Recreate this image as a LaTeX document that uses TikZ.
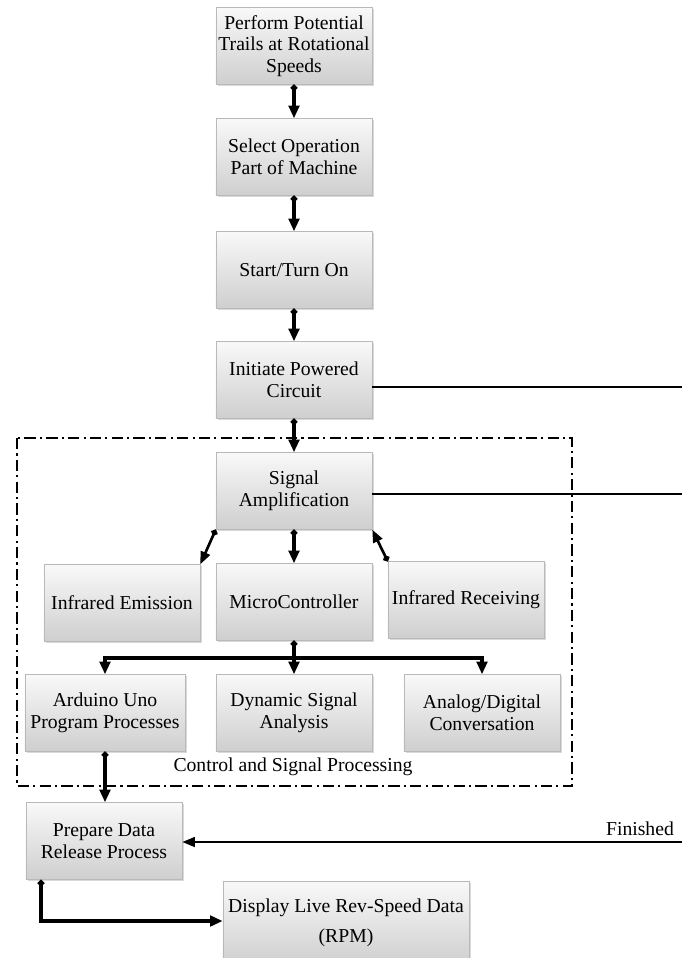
\documentclass[tikz,border=0pt]{standalone}
\usepackage{fontspec}
\setmainfont{Liberation Serif}
\usetikzlibrary{arrows.meta, shadows}

\tikzset{
  block/.style={rectangle, draw=gray!55, top color=gray!5, bottom color=gray!38,
    drop shadow={opacity=0.3, shadow xshift=1.2pt, shadow yshift=-1.2pt},
    minimum width=3.9cm, minimum height=1.92cm, inner sep=1pt,
    align=center, font=\fontsize{14}{15.5}\selectfont},
  flow/.style={line width=2.6pt, {Circle[length=4.5pt]}-{Triangle[length=9pt,width=7.5pt]}},
  branch/.style={line width=2.6pt, -{Triangle[length=9pt,width=7.5pt]}},
  thinflow/.style={line width=1.9pt, {Circle[length=4.5pt]}-{Triangle[length=9pt,width=7pt]}},
  plainline/.style={line width=1.5pt},
  ctrlbox/.style={line width=1.5pt, dash pattern=on 8pt off 3pt on 1.5pt off 3pt},
  lbl/.style={font=\fontsize{14}{15.5}\selectfont}
}

\begin{document}
\begin{tikzpicture}[x=0.025cm, y=-0.025cm]
  \useasboundingbox (0,0) rectangle (682,958);

  % control and signal processing frame
  \draw[ctrlbox] (17,438) rectangle (572,786);
  \node[lbl] (ctrllabel) at (293,767) {Control and Signal Processing};

  % main chain
  \node[block] (perform)   at (294,46)  {Perform Potential\\Trails at Rotational\\Speeds};
  \node[block] (select)    at (294,157) {Select Operation\\Part of Machine};
  \node[block] (start)     at (294,270) {Start/Turn On};
  \node[block] (initiate)  at (294,380) {Initiate Powered\\Circuit};
  \node[block] (signal)    at (294,491) {Signal\\Amplification};

  \node[block] (emission)  at (122,603) {Infrared Emission};
  \node[block] (micro)     at (294,602) {MicroController};
  \node[block] (receiving) at (466,600) {Infrared Receiving};

  \node[block, minimum width=4cm] (arduino) at (105,713) {Arduino Uno\\Program Processes};
  \node[block] (dynamic)   at (294,713) {Dynamic Signal\\Analysis};
  \node[block] (analog)    at (482,713) {Analog/Digital\\Conversation};

  \node[block] (prepare)   at (104,841) {Prepare Data\\Release Process};
  \node[block, minimum width=6.15cm, minimum height=2.1cm] (display) at (346,923)
    {Display Live Rev-Speed Data\\[6pt](RPM)};

  \foreach \a/\b in {perform/select, select/start, start/initiate,
                     initiate/signal, signal/micro}{
    \draw[flow] (\a.south) -- (\b.north);
  }

  % side branches
  \draw[thinflow] (signal.south west) -- (emission.north east);
  \draw[thinflow] (receiving.north west) -- (signal.south east);

  % fan out
  \coordinate (fan) at (294,658);
  \draw[flow] (micro.south) -- (dynamic.north);
  \draw[branch] (fan) -| (arduino.north);
  \draw[branch] (fan) -| (analog.north);

  \draw[flow] (arduino.south) -- (arduino.south |- prepare.north);
  \coordinate (bendstart) at (41,880);
  \draw[flow] (bendstart) |- (display.west |- 0,921);

  % lines leaving to the right
  \coordinate (initout) at (682,387);
  \coordinate (signalout) at (682,494);
  \coordinate (finin) at (682,842);
  \draw[plainline] (initout -| initiate.east) -- (initout);
  \draw[plainline] (signalout -| signal.east) -- (signalout);
  \draw[plainline, -{Triangle[length=9pt,width=7pt]}] (finin) -- (finin -| prepare.east);
  \node[lbl] (finished) at (640,829) {Finished};
\end{tikzpicture}
\end{document}
